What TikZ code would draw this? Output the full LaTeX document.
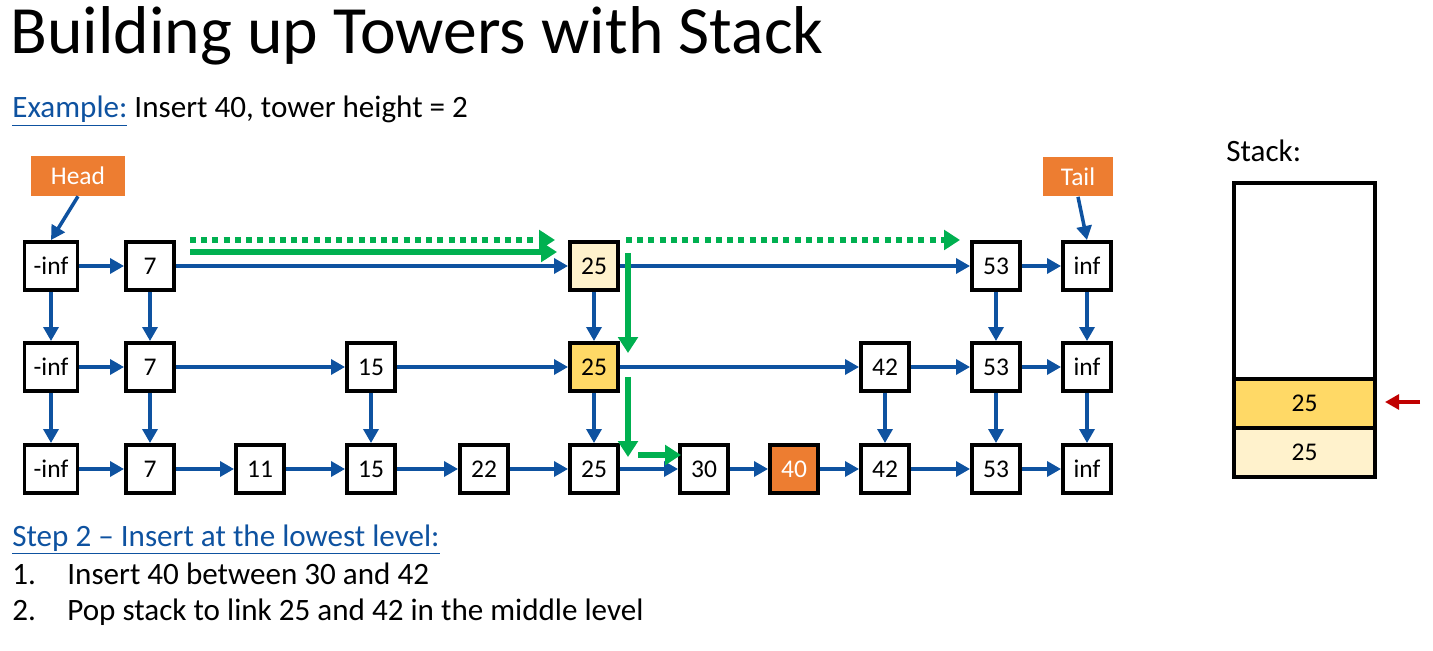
\documentclass[tikz,border=0pt]{standalone}
\usepackage{fontspec}
\setmainfont{Carlito}
\usepackage{tikz}
\usetikzlibrary{arrows.meta, positioning, calc}

\definecolor{linkblue}{RGB}{14,82,160}
\definecolor{pathgreen}{RGB}{0,176,80}
\definecolor{headorange}{RGB}{237,125,49}
\definecolor{towerlight}{RGB}{255,242,204}
\definecolor{towerdark}{RGB}{255,217,102}
\definecolor{popred}{RGB}{192,0,0}

\begin{document}
\begin{tikzpicture}[x=0.02cm, y=-0.02cm,
    caja/.style={draw, line width=2.2pt, fill=white, minimum width=0.96cm, minimum height=0.96cm, inner sep=0pt, font=\fontsize{14.5}{16}\selectfont},
    cajainf/.style={caja, minimum width=1.06cm},
    etiqueta/.style={fill=headorange, text=white, inner sep=0pt, font=\fontsize{14.5}{16}\selectfont},
    enlace/.style={-{Triangle[length=8pt, width=8.5pt]}, line width=2pt, draw=linkblue},
    baja/.style={-{Triangle[length=9pt, width=11pt]}, line width=3.2pt, draw=pathgreen},
    bajapunteada/.style={baja, dash pattern=on 3.4pt off 3pt},
    texto/.style={anchor=base west, inner sep=0pt, font=\fontsize{17.7}{20}\selectfont}]
    \useasboundingbox (0,0) rectangle (1433,651);

    % titulo y texto
    \node[anchor=base west, inner sep=0pt, font=\fontsize{38.5}{40}\selectfont] (titulo) at (10,54) {Building up Towers with Stack};
    \node[texto] (ejemplo) at (12,118) {\textcolor{linkblue}{\underline{Example:}} Insert 40, tower height = 2};
    \node[texto] (paso) at (12,546) {\textcolor{linkblue}{\underline{Step 2 -- Insert at the lowest level:}}};
    \node[texto] (uno) at (12,584) {1.};
    \node[texto] (unotxt) at (67,584) {Insert 40 between 30 and 42};
    \node[texto] (dos) at (12,620) {2.};
    \node[texto] (dostxt) at (67,620) {Pop stack to link 25 and 42 in the middle level};

    % nivel superior
    \node[cajainf] (tninf) at (51,266) {-inf};
    \node[caja] (t7) at (150,266) {7};
    \node[caja, fill=towerlight] (t25) at (594,266) {25};
    \node[caja] (t53) at (996,266) {53};
    \node[caja] (tinf) at (1087,266) {inf};

    % nivel medio
    \node[cajainf] (mninf) at (51,367) {-inf};
    \node[caja] (m7) at (150,367) {7};
    \node[caja] (m15) at (371,367) {15};
    \node[caja, fill=towerdark] (m25) at (594,367) {25};
    \node[caja] (m42) at (885,367) {42};
    \node[caja] (m53) at (996,367) {53};
    \node[caja] (minf) at (1087,367) {inf};

    % nivel inferior
    \node[cajainf] (bninf) at (51,469) {-inf};
    \node[caja] (b7) at (150,469) {7};
    \node[caja] (b11) at (260,469) {11};
    \node[caja] (b15) at (371,469) {15};
    \node[caja] (b22) at (484,469) {22};
    \node[caja] (b25) at (594,469) {25};
    \node[caja] (b30) at (704,469) {30};
    \node[caja, fill=headorange, text=white] (b40) at (794,469) {40};
    \node[caja] (b42) at (885,469) {42};
    \node[caja] (b53) at (996,469) {53};
    \node[caja] (binf) at (1087,469) {inf};

    % head y tail
    \node[etiqueta, minimum width=1.88cm, minimum height=0.8cm] (head) at (78,176) {Head};
    \node[etiqueta, minimum width=1.4cm, minimum height=0.78cm] (tail) at (1078,177) {Tail};
    \draw[enlace] (head.south) -- (tninf.north);
    \draw[enlace] (tail.south) -- (tinf.north);

    % enlaces horizontales
    \foreach \a/\b in {tninf/t7, t7/t25, t25/t53, t53/tinf,
                       mninf/m7, m7/m15, m15/m25, m25/m42, m42/m53, m53/minf,
                       bninf/b7, b7/b11, b11/b15, b15/b22, b22/b25, b25/b30, b30/b40, b40/b42, b42/b53, b53/binf}
        \draw[enlace] (\a) -- (\b);

    % enlaces verticales
    \foreach \a/\b in {tninf/mninf, t7/m7, t25/m25, t53/m53, tinf/minf,
                       mninf/bninf, m7/b7, m15/b15, m25/b25, m42/b42, m53/b53, minf/binf}
        \draw[enlace] (\a) -- (\b);

    % recorrido de busqueda
    \coordinate (g1) at (190,240);
    \coordinate (g2) at (555,240);
    \coordinate (g3) at (190,252);
    \coordinate (g4) at (557,252);
    \coordinate (g5) at (626,240);
    \coordinate (g6) at (960,240);
    \coordinate (g7) at (628,253);
    \coordinate (g8) at (628,353);
    \coordinate (g9) at (628,377);
    \coordinate (g10) at (628,457);
    \coordinate (g11) at (638,455);
    \coordinate (g12) at (681,455);
    \draw[bajapunteada] (g1) -- (g2);
    \draw[baja] (g3) -- (g4);
    \draw[bajapunteada] (g5) -- (g6);
    \draw[baja] (g7) -- (g8);
    \draw[baja] (g9) -- (g10);
    \draw[baja] (g11) -- (g12);

    % pila
    \node[anchor=base west, inner sep=0pt, font=\fontsize{17.7}{20}\selectfont] (pilatxt) at (1226,162) {Stack:};
    \node[draw, line width=2.2pt, minimum width=2.82cm, minimum height=5.86cm, inner sep=0pt] (pila) at (1304.5,329.5) {};
    \node[draw, line width=2.2pt, fill=towerlight, minimum width=2.82cm, minimum height=0.98cm, inner sep=0pt, font=\fontsize{14.5}{16}\selectfont] (pila1) at (1304.5,452.5) {25};
    \node[draw, line width=2.2pt, fill=towerdark, minimum width=2.82cm, minimum height=0.98cm, inner sep=0pt, font=\fontsize{14.5}{16}\selectfont] (pila2) at (1304.5,403.5) {25};
    \coordinate (tope) at (1420,402);
    \coordinate (tope2) at (1385,402);
    \draw[-{Triangle[length=8pt, width=8.5pt]}, line width=1.8pt, draw=popred] (tope) -- (tope2);
\end{tikzpicture}
\end{document}
